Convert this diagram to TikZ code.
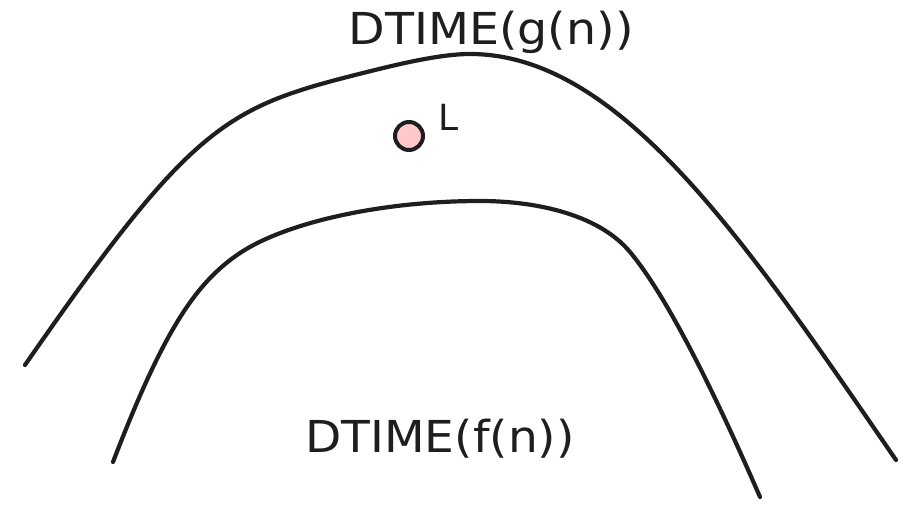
\documentclass[tikz,border=0pt]{standalone}
\usepackage{fontspec}
\setmainfont{DejaVu Sans}
\definecolor{ink}{HTML}{1E1E1E}
\definecolor{pinkfill}{HTML}{FFC9C9}
\begin{document}
\begin{tikzpicture}[x=1pt,y=-1pt,
  curve/.style={draw=ink,line width=4.2pt,line cap=round,line join=round},
  bigtext/.style={text=ink,inner sep=0pt,anchor=base,font=\fontsize{44}{44}\selectfont},
  dot/.style={circle,draw=ink,fill=pinkfill,line width=4pt,minimum size=28pt,inner sep=0pt}]
\useasboundingbox (0,0) rectangle (908,505);
% outer curve: DTIME(g(n))
\coordinate (o1) at (25,365);
\coordinate (o3) at (367,72);
\coordinate (o4) at (470,54);
\coordinate (o5) at (896,460);
\draw[curve] (o1) .. controls (195,120) and (227,107) .. (o3)
  .. controls (397,64.5) and (440,54) .. (o4)
  .. controls (620,54) and (746,242) .. (o5);
% inner curve: DTIME(f(n))
\coordinate (i1) at (113,462);
\coordinate (i2) at (240,253);
\coordinate (i3) at (480,201);
\coordinate (i4) at (630,252);
\coordinate (i5) at (760,497);
\draw[curve] (i1) .. controls (163,332) and (195,283) .. (i2)
  .. controls (285,223) and (380,201) .. (i3)
  .. controls (540,201) and (600,216) .. (i4)
  .. controls (670,300) and (720,405) .. (i5);
\node[bigtext] (gtext) at (491,45) {\scalebox{1.08}[1]{DTIME(g(n))}};
\node[bigtext] (ftext) at (440,452) {\scalebox{1.07}[1]{DTIME(f(n))}};
\node[dot] (L) at (409,136) {};
\node[text=ink,inner sep=0pt,anchor=base,font=\fontsize{36}{36}\selectfont] (Llabel) at (449,131) {L};
\end{tikzpicture}
\end{document}
